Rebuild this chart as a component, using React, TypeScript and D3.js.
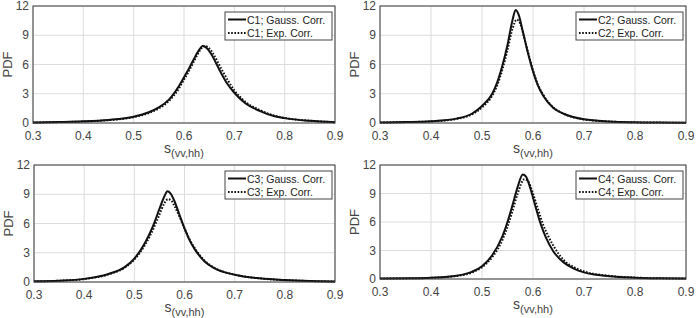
import React from 'react';
import * as d3 from 'd3';

// s(vv,hh) sample positions and PDF values for each scenario
const c1GaussX = [0.3, 0.35, 0.4, 0.45, 0.5, 0.53, 0.55, 0.57, 0.59, 0.6, 0.61, 0.62, 0.63, 0.637, 0.645, 0.655, 0.665, 0.675, 0.685, 0.7, 0.72, 0.75, 0.78, 0.8, 0.85, 0.9];
const c1GaussY = [0.05, 0.1, 0.17, 0.32, 0.65, 1.1, 1.6, 2.4, 3.8, 4.7, 5.6, 6.6, 7.5, 7.9, 7.7, 7.0, 6.0, 5.0, 4.1, 3.1, 2.1, 1.25, 0.7, 0.5, 0.22, 0.08];
const c1ExpX = [0.3, 0.35, 0.4, 0.45, 0.5, 0.53, 0.55, 0.57, 0.59, 0.6, 0.61, 0.62, 0.63, 0.64, 0.648, 0.658, 0.668, 0.678, 0.688, 0.7, 0.72, 0.75, 0.78, 0.8, 0.85, 0.9];
const c1ExpY = [0.05, 0.09, 0.15, 0.29, 0.6, 1.02, 1.5, 2.25, 3.55, 4.45, 5.35, 6.35, 7.3, 7.9, 7.75, 7.1, 6.15, 5.2, 4.3, 3.35, 2.25, 1.35, 0.75, 0.52, 0.23, 0.08];

const c2GaussX = [0.3, 0.35, 0.4, 0.45, 0.48, 0.5, 0.52, 0.53, 0.54, 0.55, 0.56, 0.566, 0.572, 0.58, 0.59, 0.6, 0.61, 0.62, 0.64, 0.66, 0.7, 0.75, 0.8, 0.85, 0.9];
const c2GaussY = [0.05, 0.09, 0.18, 0.45, 0.95, 1.75, 3.0, 4.2, 5.9, 8.0, 10.6, 11.6, 11.1, 9.4, 7.2, 5.3, 3.8, 2.8, 1.55, 0.95, 0.38, 0.16, 0.08, 0.05, 0.03];
const c2ExpX = [0.3, 0.35, 0.4, 0.45, 0.48, 0.5, 0.52, 0.53, 0.54, 0.55, 0.56, 0.568, 0.575, 0.58, 0.59, 0.6, 0.61, 0.62, 0.64, 0.66, 0.7, 0.75, 0.8, 0.85, 0.9];
const c2ExpY = [0.05, 0.09, 0.17, 0.42, 0.88, 1.6, 2.8, 3.9, 5.5, 7.5, 9.7, 10.6, 10.2, 9.3, 7.3, 5.4, 3.9, 2.9, 1.6, 0.95, 0.37, 0.15, 0.07, 0.04, 0.02];

const c3GaussX = [0.3, 0.35, 0.4, 0.45, 0.48, 0.5, 0.52, 0.53, 0.54, 0.55, 0.56, 0.566, 0.572, 0.58, 0.59, 0.6, 0.61, 0.62, 0.64, 0.66, 0.7, 0.75, 0.8, 0.85, 0.9];
const c3GaussY = [0.08, 0.14, 0.32, 0.85, 1.5, 2.4, 3.9, 4.9, 6.1, 7.5, 8.8, 9.3, 9.1, 8.3, 6.9, 5.5, 4.3, 3.4, 2.1, 1.4, 0.75, 0.38, 0.2, 0.1, 0.06];
const c3ExpX = [0.3, 0.35, 0.4, 0.45, 0.48, 0.5, 0.52, 0.53, 0.54, 0.55, 0.56, 0.567, 0.574, 0.58, 0.59, 0.6, 0.61, 0.62, 0.64, 0.66, 0.7, 0.75, 0.8, 0.85, 0.9];
const c3ExpY = [0.07, 0.13, 0.3, 0.8, 1.45, 2.3, 3.7, 4.6, 5.7, 6.9, 8.1, 8.5, 8.35, 7.8, 6.7, 5.5, 4.4, 3.5, 2.2, 1.45, 0.75, 0.37, 0.19, 0.1, 0.05];

const c4GaussX = [0.3, 0.35, 0.4, 0.45, 0.48, 0.5, 0.52, 0.54, 0.55, 0.56, 0.57, 0.58, 0.586, 0.595, 0.605, 0.615, 0.625, 0.64, 0.66, 0.68, 0.7, 0.75, 0.8, 0.85, 0.9];
const c4GaussY = [0.04, 0.07, 0.14, 0.35, 0.75, 1.35, 2.5, 4.5, 6.0, 7.8, 9.7, 11.0, 10.8, 9.5, 7.6, 5.8, 4.4, 2.9, 1.75, 1.1, 0.7, 0.3, 0.14, 0.07, 0.04];
const c4ExpX = [0.3, 0.35, 0.4, 0.45, 0.48, 0.5, 0.52, 0.54, 0.55, 0.56, 0.57, 0.583, 0.59, 0.6, 0.61, 0.62, 0.63, 0.64, 0.66, 0.68, 0.7, 0.75, 0.8, 0.85, 0.9];
const c4ExpY = [0.04, 0.06, 0.12, 0.32, 0.68, 1.25, 2.3, 4.1, 5.5, 7.2, 9.0, 10.5, 10.3, 9.0, 7.3, 5.7, 4.5, 3.5, 2.0, 1.25, 0.8, 0.33, 0.15, 0.07, 0.04];

const xTicks = [0.3, 0.4, 0.5, 0.6, 0.7, 0.8, 0.9];
const yTicks = [0, 3, 6, 9, 12];

const panels = [
  { name: 'C1', gx: c1GaussX, gy: c1GaussY, ex: c1ExpX, ey: c1ExpY, left: 33, right: 335, top: 6, bottom: 123 },
  { name: 'C2', gx: c2GaussX, gy: c2GaussY, ex: c2ExpX, ey: c2ExpY, left: 380, right: 686, top: 6, bottom: 123 },
  { name: 'C3', gx: c3GaussX, gy: c3GaussY, ex: c3ExpX, ey: c3ExpY, left: 34, right: 335, top: 165, bottom: 282 },
  { name: 'C4', gx: c4GaussX, gy: c4GaussY, ex: c4ExpX, ey: c4ExpY, left: 380, right: 686, top: 165, bottom: 279 },
];

const FONT = 'Liberation Sans, Arial, sans-serif';

type PanelProps = (typeof panels)[number];

const Panel = ({ name, gx, gy, ex, ey, left, right, top, bottom }: PanelProps) => {
  const x = d3.scaleLinear().domain([0.3, 0.9]).range([left, right]);
  const y = d3.scaleLinear().domain([0, 12]).range([bottom, top]);
  const line = d3
    .line<[number, number]>()
    .x((d) => x(d[0]))
    .y((d) => y(d[1]))
    .curve(d3.curveMonotoneX);
  const gauss = gx.map((v, i) => [v, gy[i]] as [number, number]);
  const expo = ex.map((v, i) => [v, ey[i]] as [number, number]);

  const legW = 107;
  const legH = 28;
  const legX = right - 3 - legW;
  const legY = top + 6;
  const cx = (left + right) / 2;

  return (
    <g>
      <rect x={left} y={top} width={right - left} height={bottom - top} fill="#fff" />
      {xTicks.map((t) => (
        <line key={`gx${t}`} x1={x(t)} x2={x(t)} y1={top} y2={bottom} stroke="#dcdcdc" strokeWidth={1} />
      ))}
      {yTicks.map((t) => (
        <line key={`gy${t}`} x1={left} x2={right} y1={y(t)} y2={y(t)} stroke="#dcdcdc" strokeWidth={1} />
      ))}
      <path d={line(gauss) ?? ''} fill="none" stroke="#111" strokeWidth={2} />
      <path d={line(expo) ?? ''} fill="none" stroke="#111" strokeWidth={2} strokeDasharray="1.6,1.6" />
      <rect x={left} y={top} width={right - left} height={bottom - top} fill="none" stroke="#3a3a3a" strokeWidth={1} />
      {xTicks.map((t) => (
        <text key={`tx${t}`} x={x(t)} y={bottom + 17} textAnchor="middle" fontSize={12} fill="#444" fontFamily={FONT}>
          {t.toFixed(1)}
        </text>
      ))}
      {yTicks.map((t) => (
        <text key={`ty${t}`} x={left - 4} y={y(t) + 4} textAnchor="end" fontSize={12} fill="#444" fontFamily={FONT}>
          {t}
        </text>
      ))}
      <text
        transform={`translate(${left - 21},${(top + bottom) / 2}) rotate(-90)`}
        textAnchor="middle"
        fontSize={13}
        fill="#444"
        fontFamily={FONT}
      >
        PDF
      </text>
      <text x={cx} y={bottom + 30} textAnchor="middle" fontSize={14} fill="#444" fontFamily={FONT}>
        s
        <tspan fontSize={11} dy={4}>
          (vv,hh)
        </tspan>
      </text>
      <rect x={legX} y={legY} width={legW} height={legH} fill="#fff" stroke="#444" strokeWidth={1} />
      <line x1={legX + 3} x2={legX + 21} y1={legY + 7.5} y2={legY + 7.5} stroke="#111" strokeWidth={2} />
      <line x1={legX + 3} x2={legX + 21} y1={legY + 21} y2={legY + 21} stroke="#111" strokeWidth={2} strokeDasharray="1.6,1.6" />
      <text x={legX + 22} y={legY + 11.5} fontSize={10.5} fill="#222" fontFamily={FONT}>
        {`${name}; Gauss. Corr.`}
      </text>
      <text x={legX + 22} y={legY + 25} fontSize={10.5} fill="#222" fontFamily={FONT}>
        {`${name}; Exp. Corr.`}
      </text>
    </g>
  );
};

export default function App() {
  return (
    <svg
      width={699}
      height={318}
      style={{ position: 'absolute', left: 0, top: 0, background: '#fff' }}
    >
      {panels.map((p) => (
        <Panel key={p.name} {...p} />
      ))}
    </svg>
  );
}
